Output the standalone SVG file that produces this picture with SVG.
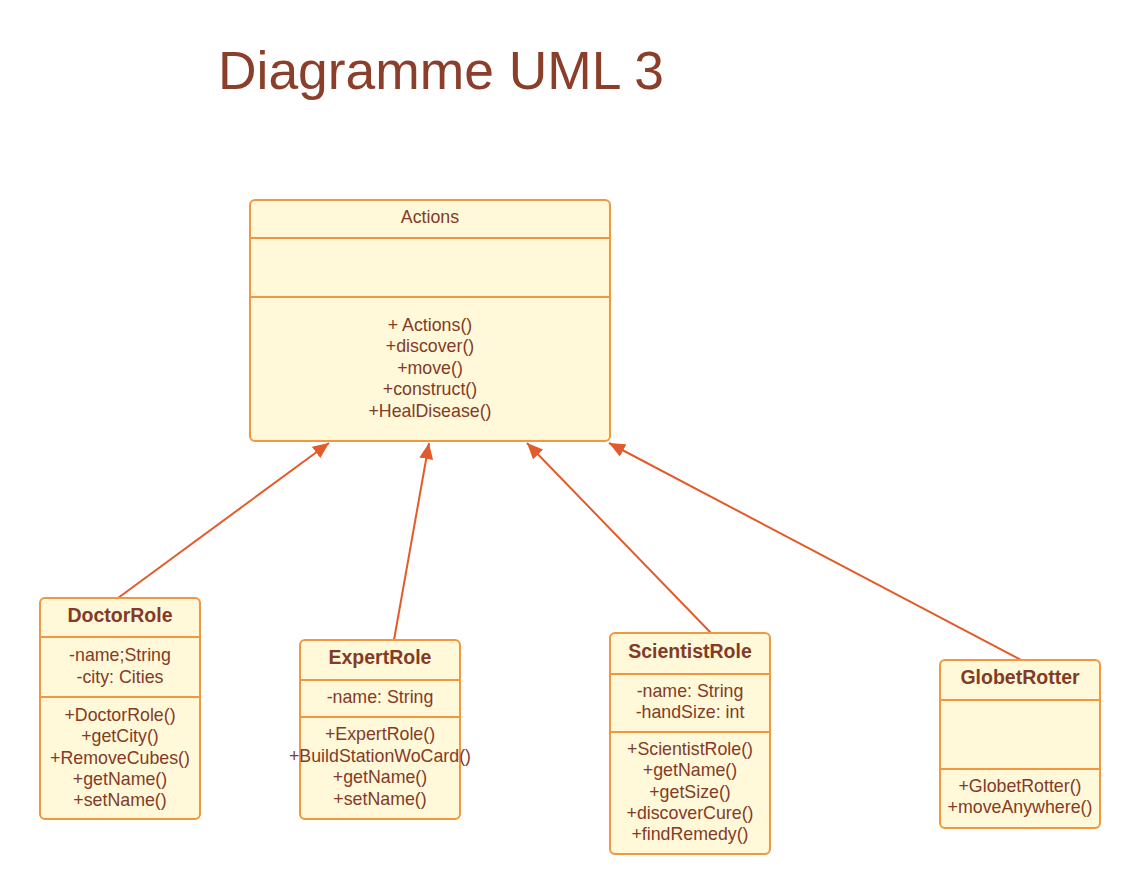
<svg xmlns="http://www.w3.org/2000/svg" width="1140" height="895" viewBox="0 0 1140 895">
<style>
.box{fill:#FFF8D9;stroke:#F0973F;stroke-width:2}
.div{stroke:#F0973F;stroke-width:2}
.t{font-family:"Liberation Sans",Arial,sans-serif;font-size:17.8px;fill:#843B26;text-anchor:middle}
.b{font-weight:bold;font-size:19.5px}
.title{font-family:"Liberation Sans",Arial,sans-serif;font-size:53.4px;fill:#8B3F2A}
.c{stroke:#E35B2A;stroke-width:2;fill:none;marker-end:url(#arr)}
</style>
<defs>
<marker id="arr" markerUnits="userSpaceOnUse" markerWidth="18" markerHeight="14" refX="16" refY="7" orient="auto">
<path d="M0,0 L16,7 L0,14 z" fill="#E35B2A"/>
</marker>
</defs>
<rect width="1140" height="895" fill="#FFFFFF"/>
<text class="title" x="218" y="89">Diagramme UML 3</text>

<g id="connectors">
<line class="c" x1="118" y1="598" x2="329" y2="443"/>
<line class="c" x1="394" y1="640" x2="429" y2="443"/>
<line class="c" x1="711" y1="633" x2="527" y2="443"/>
<line class="c" x1="1021" y1="660" x2="609" y2="443"/>
</g>

<g id="Actions">
<rect class="box" x="250" y="200" width="360" height="241" rx="5"/>
<line class="div" x1="250" y1="238" x2="610" y2="238"/>
<line class="div" x1="250" y1="297" x2="610" y2="297"/>
<text class="t" x="430" y="223">Actions</text>
<text class="t" x="430" y="331">+ Actions()</text>
<text class="t" x="430" y="352">+discover()</text>
<text class="t" x="430" y="374">+move()</text>
<text class="t" x="430" y="395">+construct()</text>
<text class="t" x="430" y="417">+HealDisease()</text>
</g>

<g id="DoctorRole">
<rect class="box" x="40" y="598" width="160" height="221" rx="5"/>
<line class="div" x1="40" y1="637" x2="200" y2="637"/>
<line class="div" x1="40" y1="697" x2="200" y2="697"/>
<text class="t b" x="120" y="622">DoctorRole</text>
<text class="t" x="120" y="661">-name;String</text>
<text class="t" x="120" y="683">-city: Cities</text>
<text class="t" x="120" y="721">+DoctorRole()</text>
<text class="t" x="120" y="742">+getCity()</text>
<text class="t" x="120" y="764">+RemoveCubes()</text>
<text class="t" x="120" y="785">+getName()</text>
<text class="t" x="120" y="806">+setName()</text>
</g>

<g id="ExpertRole">
<rect class="box" x="300" y="640" width="160" height="179" rx="5"/>
<line class="div" x1="300" y1="680" x2="460" y2="680"/>
<line class="div" x1="300" y1="717" x2="460" y2="717"/>
<text class="t b" x="380" y="664">ExpertRole</text>
<text class="t" x="380" y="703">-name: String</text>
<text class="t" x="380" y="740">+ExpertRole()</text>
<text class="t" x="380" y="762">+BuildStationWoCard()</text>
<text class="t" x="380" y="783">+getName()</text>
<text class="t" x="380" y="805">+setName()</text>
</g>

<g id="ScientistRole">
<rect class="box" x="610" y="633" width="160" height="221" rx="5"/>
<line class="div" x1="610" y1="674" x2="770" y2="674"/>
<line class="div" x1="610" y1="732" x2="770" y2="732"/>
<text class="t b" x="690" y="658">ScientistRole</text>
<text class="t" x="690" y="697">-name: String</text>
<text class="t" x="690" y="718">-handSize: int</text>
<text class="t" x="690" y="755">+ScientistRole()</text>
<text class="t" x="690" y="776">+getName()</text>
<text class="t" x="690" y="798">+getSize()</text>
<text class="t" x="690" y="819">+discoverCure()</text>
<text class="t" x="690" y="840">+findRemedy()</text>
</g>

<g id="GlobetRotter">
<rect class="box" x="940" y="660" width="160" height="168" rx="5"/>
<line class="div" x1="940" y1="700" x2="1100" y2="700"/>
<line class="div" x1="940" y1="769" x2="1100" y2="769"/>
<text class="t b" x="1020" y="684">GlobetRotter</text>
<text class="t" x="1020" y="792">+GlobetRotter()</text>
<text class="t" x="1020" y="813">+moveAnywhere()</text>
</g>
</svg>
